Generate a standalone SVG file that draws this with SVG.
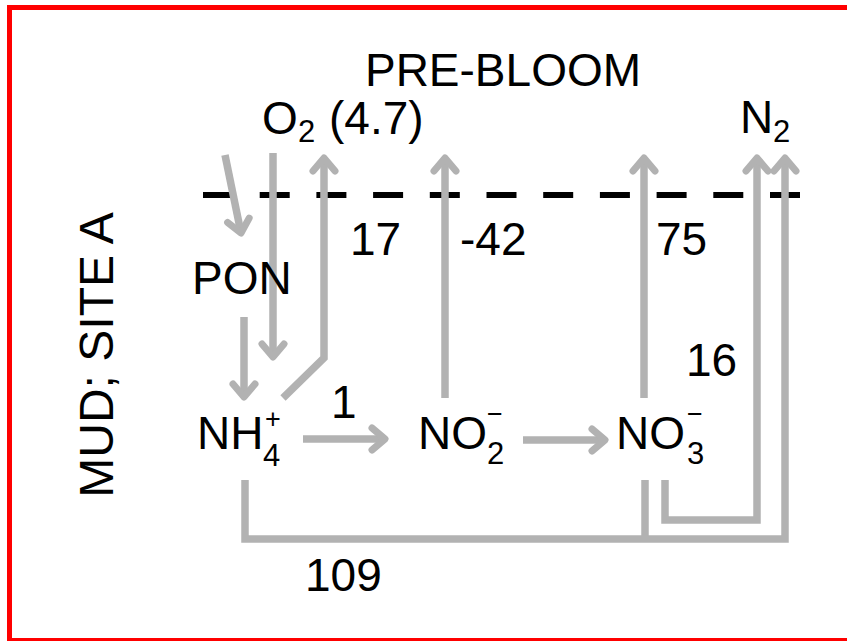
<svg xmlns="http://www.w3.org/2000/svg" width="847" height="641" viewBox="0 0 847 641">
<style>
text{font-family:"Liberation Sans",Arial,sans-serif;fill:#000}
.t{font-size:46px}
.s{font-size:31px}
.c{font-size:27px}
.g{fill:none;stroke:#b2b2b2;stroke-width:7.5;stroke-linejoin:miter}
.a{marker-end:url(#ah)}
</style>
<defs>
<marker id="ah" markerUnits="userSpaceOnUse" viewBox="-20 -15 25 30" refX="0" refY="0" markerWidth="25" markerHeight="30" orient="auto" overflow="visible">
<path d="M-13,-11 L0,0 L-13,11" fill="none" stroke="#b2b2b2" stroke-width="7" stroke-linecap="round" stroke-linejoin="round"/>
</marker>
</defs>
<rect x="0" y="0" width="847" height="641" fill="#fff"/>
<rect x="9.5" y="7.5" width="850" height="633" fill="none" stroke="#ff0000" stroke-width="5"/>

<g id="title"><text class="t" x="503" y="86" text-anchor="middle">PRE-BLOOM</text></g>
<g id="side"><text class="t" style="font-size:48px" transform="translate(113,355) rotate(-90)" text-anchor="middle">MUD; SITE A</text></g>

<g id="interface"><path d="M203,195 L806,195" stroke="#000" stroke-width="6" stroke-dasharray="30 26.7" fill="none"/></g>

<g id="connectors">
<path class="g a" d="M225,155 L241,233"/>
<path class="g a" d="M273,153 L273,357"/>
<path class="g a" d="M283,398 L324,358 L324,158"/>
<path class="g a" d="M244,317 L244,397"/>
<path class="g a" d="M303,439 L385,439"/>
<path class="g a" d="M523,440 L605,440"/>
<path class="g a" d="M445,398 L445,158"/>
<path class="g a" d="M644,398 L644,158"/>
<path class="g a" d="M245,480 L245,539 L785,539 L785,158"/>
<path class="g" d="M645,480 L645,539"/>
<path class="g a" d="M665,480 L665,520 L757,520 L757,158"/>
</g>

<g id="node-O2"><text class="t" x="262" y="134">O</text><text class="s" x="298" y="142">2</text><text class="t" x="329" y="134">(4.7)</text></g>
<g id="node-N2"><text class="t" x="740" y="133">N</text><text class="s" x="773" y="142">2</text></g>
<g id="node-PON"><text class="t" x="192" y="294">PON</text></g>
<g id="node-NH4"><text class="t" x="197" y="449">NH</text><text class="s" x="263" y="466">4</text><text class="c" x="265" y="428">+</text></g>
<g id="node-NO2"><text class="t" x="418" y="449">NO</text><text class="s" x="487" y="464">2</text><text class="c" x="487" y="423">−</text></g>
<g id="node-NO3"><text class="t" x="616" y="449">NO</text><text class="s" x="687" y="464">3</text><text class="c" x="687" y="423">−</text></g>

<g id="labels">
<text class="t" x="350" y="255">17</text>
<text class="t" x="460" y="255">-42</text>
<text class="t" x="656" y="255">75</text>
<text class="t" x="686" y="376">16</text>
<text class="t" x="331" y="418">1</text>
<text class="t" x="305" y="591">109</text>
</g>
</svg>
